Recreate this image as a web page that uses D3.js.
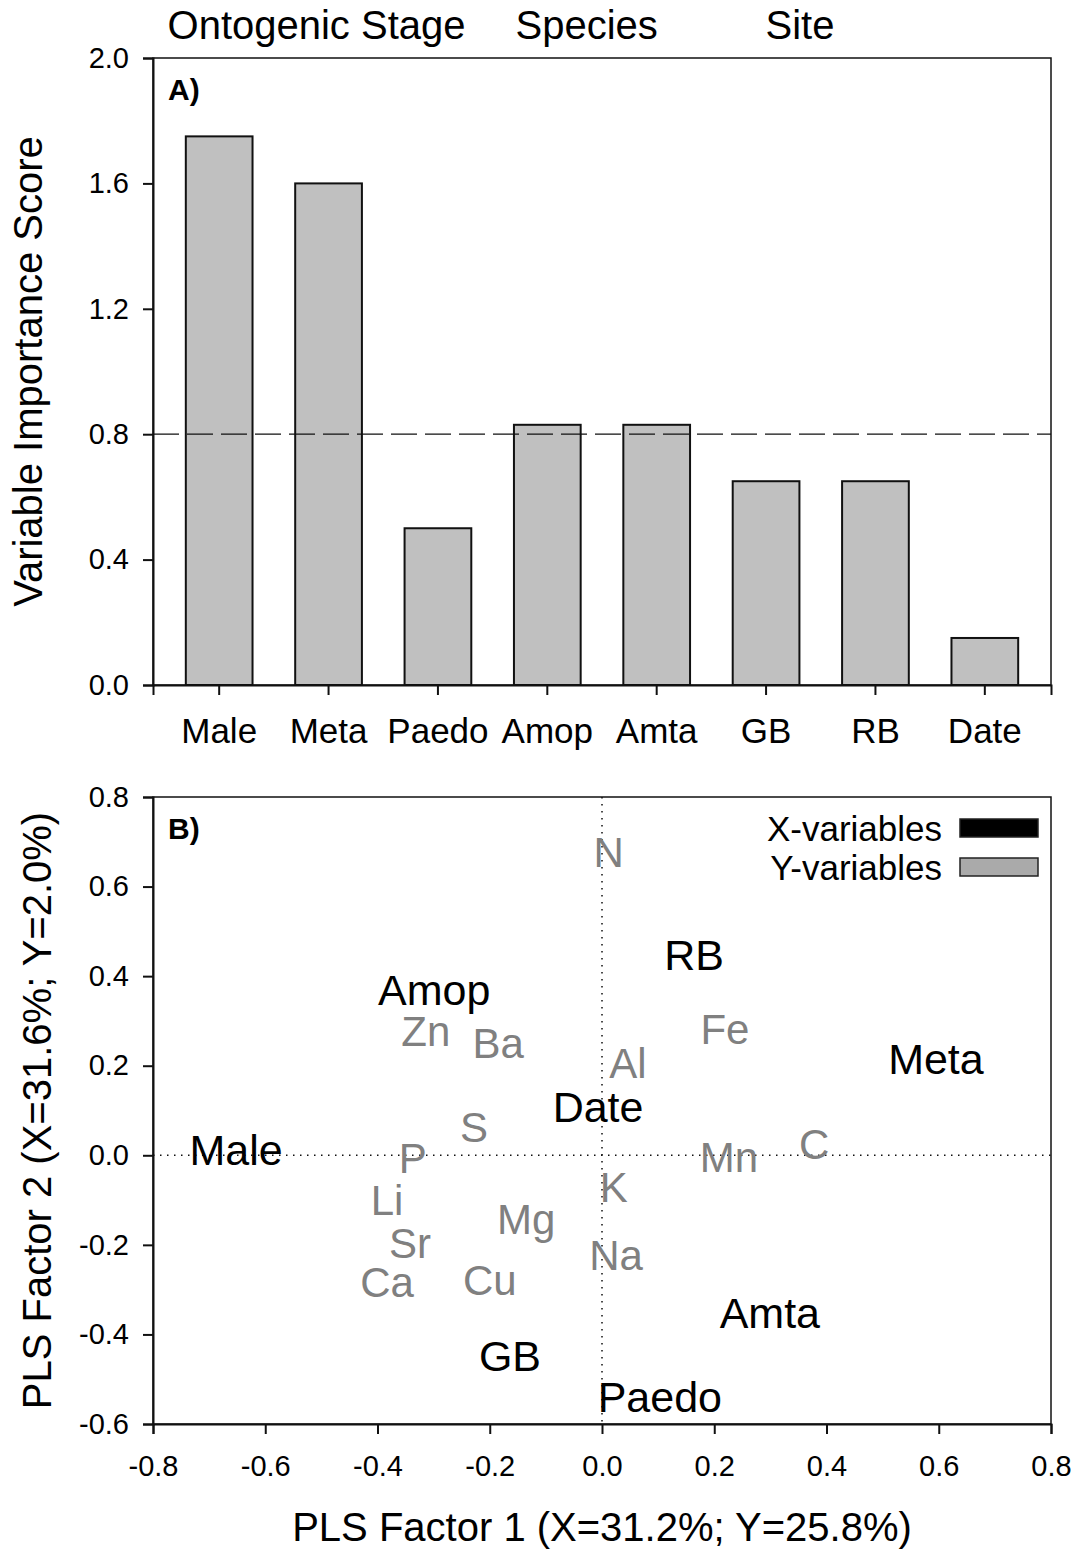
<!DOCTYPE html>
<html>
<head>
<meta charset="utf-8">
<script src="https://cdn.jsdelivr.net/npm/d3@7"></script>
<style>
  body { margin: 0; background: #fff; }
  svg text { font-family: "Liberation Sans", Arial, sans-serif; }
</style>
</head>
<body>
<svg id="chart" width="1080" height="1552"></svg>
<script>
// panel A: variable importance
const categories = ['Male', 'Meta', 'Paedo', 'Amop', 'Amta', 'GB', 'RB', 'Date'];
const vipScores = [1.75, 1.60, 0.50, 0.83, 0.83, 0.65, 0.65, 0.15];
const vipTicks = [0, 0.4, 0.8, 1.2, 1.6, 2.0];
const groupLabels = ['Ontogenic Stage', 'Species', 'Site'];
const groupCenters = [0.89, 3.36, 5.31]; // in category-index units

// panel B: PLS loadings
const xVarNames = ['Male', 'Meta', 'Paedo', 'Amop', 'Amta', 'GB', 'RB', 'Date'];
const xVarF1 = [-0.652, 0.595, 0.103, -0.299, 0.299, -0.164, 0.164, -0.007];
const xVarF2 = [0.012, 0.215, -0.540, 0.369, -0.353, -0.449, 0.447, 0.108];
const yVarNames = ['N', 'Zn', 'Ba', 'Fe', 'Al', 'S', 'P', 'Mn', 'C', 'K', 'Li', 'Mg', 'Sr', 'Na', 'Ca', 'Cu'];
const yVarF1 = [0.012, -0.314, -0.185, 0.219, 0.046, -0.228, -0.337, 0.226, 0.378, 0.021, -0.383, -0.135, -0.342, 0.025, -0.383, -0.200];
const yVarF2 = [0.677, 0.277, 0.249, 0.280, 0.204, 0.061, -0.008, -0.006, 0.023, -0.071, -0.100, -0.143, -0.196, -0.223, -0.283, -0.279];
const plsXTicks = [-0.8, -0.6, -0.4, -0.2, 0, 0.2, 0.4, 0.6, 0.8];
const plsYTicks = [-0.6, -0.4, -0.2, 0, 0.2, 0.4, 0.6, 0.8];

const svg = d3.select('#chart');
const L = 153, R = 1051;
const fmt = d => d.toFixed(1); // plain hyphen minus, like the original

// ---------- panel A ----------
const aTop = 58, aBot = 685;
const x = d3.scaleBand().domain(categories).range([L, R]).paddingInner(0.39).paddingOuter(0.3);
const y = d3.scaleLinear().domain([0, 2]).range([aBot, aTop]);

const gA = svg.append('g');
gA.selectAll('rect.bar').data(categories).join('rect')
  .attr('class', 'bar')
  .attr('x', d => x(d))
  .attr('y', (d, i) => y(vipScores[i]))
  .attr('width', x.bandwidth())
  .attr('height', (d, i) => y(0) - y(vipScores[i]))
  .attr('fill', '#c0c0c0')
  .attr('stroke', '#111')
  .attr('stroke-width', 2);

gA.append('line')
  .attr('x1', L).attr('x2', R).attr('y1', y(0.8)).attr('y2', y(0.8))
  .attr('stroke', '#111').attr('stroke-width', 1.3).attr('stroke-dasharray', '26,8');

// frame
gA.append('rect').attr('x', L).attr('y', aTop).attr('width', R - L).attr('height', aBot - aTop)
  .attr('fill', 'none').attr('stroke', '#111').attr('stroke-width', 1.5);

const yAxA = gA.append('g').attr('transform', `translate(${L},0)`)
  .call(d3.axisLeft(y).tickValues(vipTicks).tickFormat(fmt).tickSize(10).tickPadding(14));
const xAxA = gA.append('g').attr('transform', `translate(0,${aBot})`)
  .call(d3.axisBottom(x).tickSize(10).tickPadding(23));
[yAxA, xAxA].forEach(g => {
  g.select('.domain').attr('stroke', '#111').attr('stroke-width', 2);
  g.selectAll('.tick line').attr('stroke', '#111').attr('stroke-width', 2);
});
yAxA.selectAll('.tick text').attr('font-size', 29).attr('fill', '#000');
xAxA.selectAll('.tick text').attr('font-size', 35).attr('fill', '#000');

gA.append('text').attr('x', 168).attr('y', 100).attr('font-size', 30).attr('font-weight', 'bold').text('A)');

// group headers above the bars
groupLabels.forEach((t, i) => {
  gA.append('text')
    .attr('x', x(categories[0]) + x.bandwidth() / 2 + x.step() * groupCenters[i])
    .attr('y', 39)
    .attr('text-anchor', 'middle')
    .attr('font-size', 40)
    .text(t);
});

gA.append('text')
  .attr('transform', `translate(42,${(aTop + aBot) / 2}) rotate(-90)`)
  .attr('text-anchor', 'middle')
  .attr('font-size', 40)
  .text('Variable Importance Score');

// ---------- panel B ----------
const bTop = 797, bBot = 1424;
const px = d3.scaleLinear().domain([-0.8, 0.8]).range([L, R]);
const py = d3.scaleLinear().domain([-0.6, 0.8]).range([bBot, bTop]);
const gB = svg.append('g');

gB.append('line').attr('x1', px(0)).attr('x2', px(0)).attr('y1', bTop).attr('y2', bBot)
  .attr('stroke', '#111').attr('stroke-width', 1.5).attr('stroke-dasharray', '1.5,5.5');
gB.append('line').attr('x1', L).attr('x2', R).attr('y1', py(0)).attr('y2', py(0))
  .attr('stroke', '#111').attr('stroke-width', 1.5).attr('stroke-dasharray', '1.5,5.5');

gB.append('rect').attr('x', L).attr('y', bTop).attr('width', R - L).attr('height', bBot - bTop)
  .attr('fill', 'none').attr('stroke', '#111').attr('stroke-width', 1.5);

const yAxB = gB.append('g').attr('transform', `translate(${L},0)`)
  .call(d3.axisLeft(py).tickValues(plsYTicks).tickFormat(fmt).tickSize(10).tickPadding(14));
const xAxB = gB.append('g').attr('transform', `translate(0,${bBot})`)
  .call(d3.axisBottom(px).tickValues(plsXTicks).tickFormat(fmt).tickSize(10).tickPadding(21));
[yAxB, xAxB].forEach(g => {
  g.select('.domain').attr('stroke', '#111').attr('stroke-width', 2);
  g.selectAll('.tick line').attr('stroke', '#111').attr('stroke-width', 2);
  g.selectAll('.tick text').attr('font-size', 29).attr('fill', '#000');
});

gB.selectAll('text.yvar').data(yVarNames).join('text')
  .attr('class', 'yvar')
  .attr('x', (d, i) => px(yVarF1[i]))
  .attr('y', (d, i) => py(yVarF2[i]))
  .attr('text-anchor', 'middle')
  .attr('dominant-baseline', 'central')
  .attr('font-size', 42)
  .attr('fill', '#808080')
  .text(d => d);

gB.selectAll('text.xvar').data(xVarNames).join('text')
  .attr('class', 'xvar')
  .attr('x', (d, i) => px(xVarF1[i]))
  .attr('y', (d, i) => py(xVarF2[i]))
  .attr('text-anchor', 'middle')
  .attr('dominant-baseline', 'central')
  .attr('font-size', 43)
  .attr('fill', '#000')
  .text(d => d);

gB.append('text').attr('x', 168).attr('y', 839).attr('font-size', 30).attr('font-weight', 'bold').text('B)');

// legend
const legend = [['X-variables', '#000'], ['Y-variables', '#aaaaaa']];
legend.forEach(([t, c], i) => {
  const yy = 828 + i * 39;
  gB.append('text').attr('x', 942).attr('y', yy).attr('text-anchor', 'end')
    .attr('dominant-baseline', 'central').attr('font-size', 35).text(t);
  gB.append('rect').attr('x', 960).attr('y', yy - 9).attr('width', 78).attr('height', 18)
    .attr('fill', c).attr('stroke', '#222').attr('stroke-width', 1.5);
});

gB.append('text')
  .attr('x', (L + R) / 2).attr('y', 1541)
  .attr('text-anchor', 'middle').attr('font-size', 40)
  .text('PLS Factor 1 (X=31.2%; Y=25.8%)');
gB.append('text')
  .attr('transform', `translate(51,${(bTop + bBot) / 2}) rotate(-90)`)
  .attr('text-anchor', 'middle').attr('font-size', 40)
  .text('PLS Factor 2 (X=31.6%; Y=2.0%)');
</script>
</body>
</html>
